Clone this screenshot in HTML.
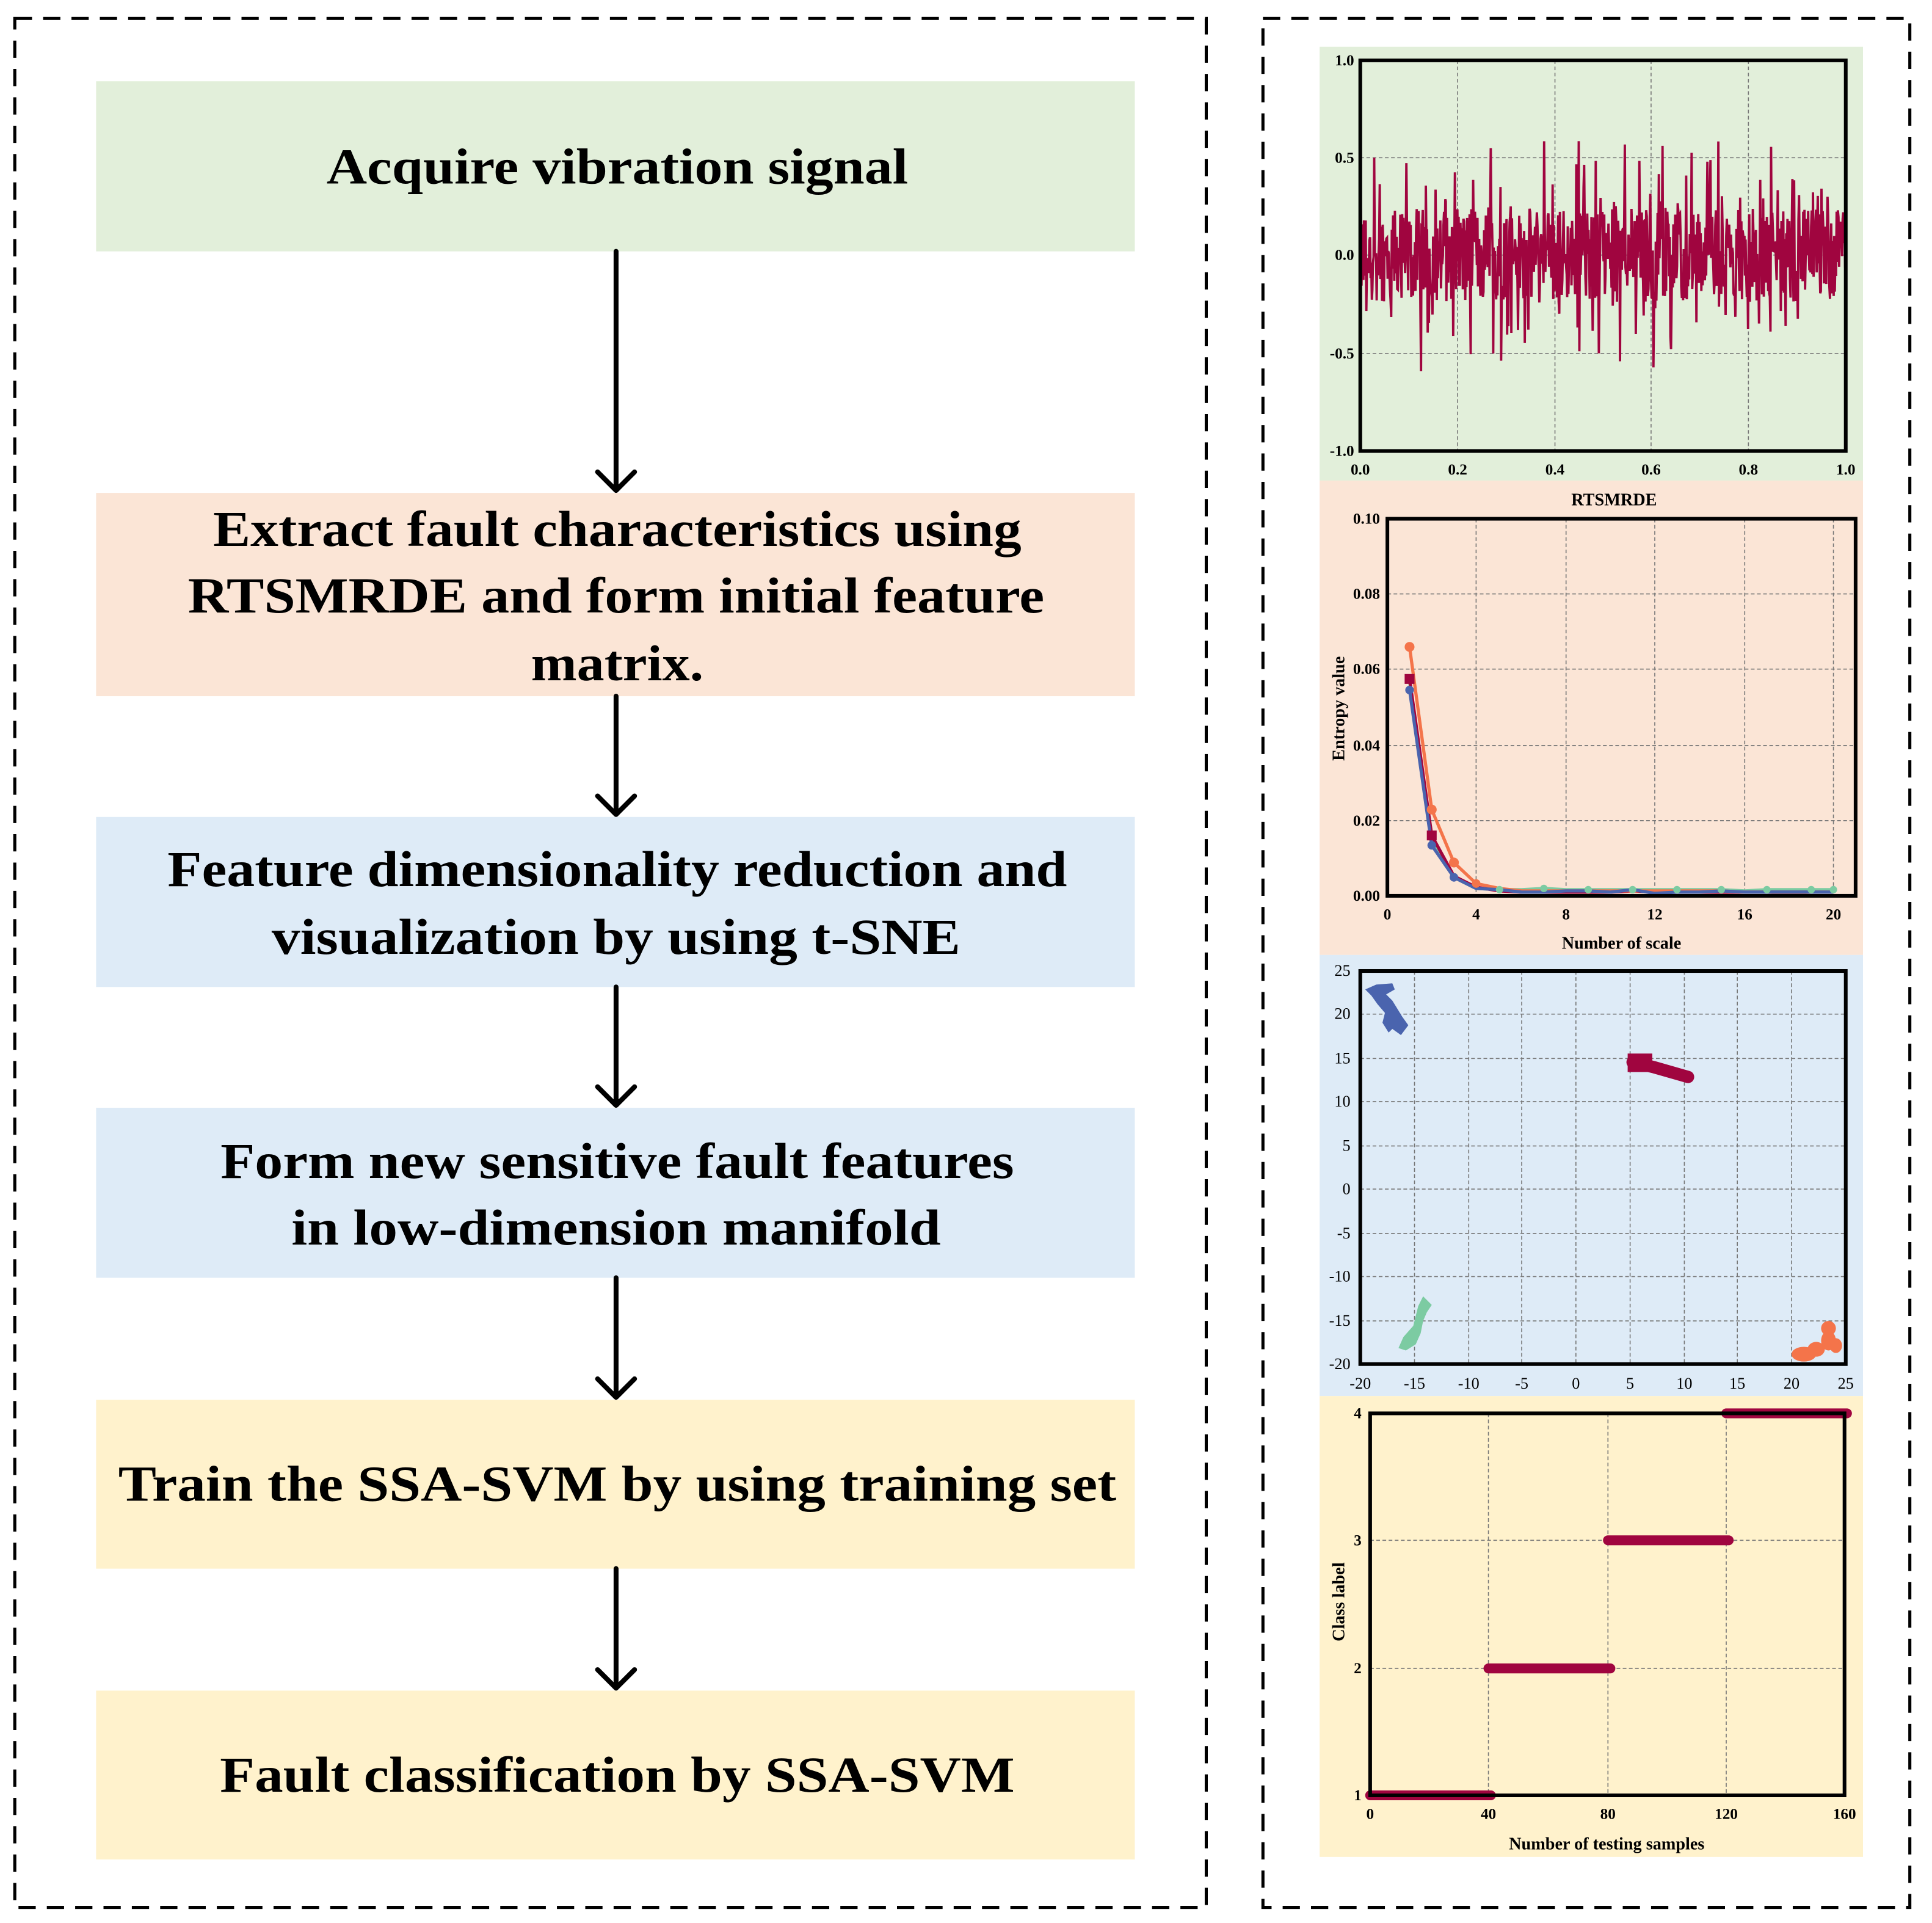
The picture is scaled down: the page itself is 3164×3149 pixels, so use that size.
<!DOCTYPE html>
<html><head><meta charset="utf-8"><style>
html,body{margin:0;padding:0;background:#fff}
svg{display:block}
.bt{font-family:"Liberation Serif",serif;font-weight:bold;font-size:41px;text-anchor:middle;fill:#000}
.tk{font-family:"Liberation Serif",serif;font-weight:bold;font-size:12.5px;fill:#000}
.tn{font-family:"Liberation Serif",serif;font-size:13px;fill:#000}
.al{font-family:"Liberation Serif",serif;font-weight:bold;font-size:14px;fill:#000;text-anchor:middle}
.g{stroke:#777;stroke-width:0.8;stroke-dasharray:3,2;fill:none}
</style></head><body>
<svg width="3164" height="3149" viewBox="0 0 1568 1560.6" preserveAspectRatio="none" xmlns="http://www.w3.org/2000/svg">
<rect x="0" y="0" width="1568" height="1561" fill="#fff"/>
<rect x="12" y="15" width="967" height="1533" fill="none" stroke="#000" stroke-width="2.5" stroke-dasharray="14,9"/>
<rect x="1025" y="15" width="525" height="1533" fill="none" stroke="#000" stroke-width="2.5" stroke-dasharray="14,9"/>

<rect x="78" y="66" width="843" height="138" fill="#e2efda"/>
<rect x="78" y="400" width="843" height="165" fill="#fbe5d6"/>
<rect x="78" y="663" width="843" height="138" fill="#deebf7"/>
<rect x="78" y="899" width="843" height="138" fill="#deebf7"/>
<rect x="78" y="1136" width="843" height="137" fill="#fff2cc"/>
<rect x="78" y="1372" width="843" height="137" fill="#fff2cc"/>

<g class="bt">
<text x="501" y="149" textLength="472" lengthAdjust="spacingAndGlyphs">Acquire vibration signal</text>
<text x="501" y="443" textLength="656" lengthAdjust="spacingAndGlyphs">Extract fault characteristics using</text>
<text x="500" y="497" textLength="695" lengthAdjust="spacingAndGlyphs">RTSMRDE and form initial feature</text>
<text x="501" y="552" textLength="140" lengthAdjust="spacingAndGlyphs">matrix.</text>
<text x="501" y="719" textLength="730" lengthAdjust="spacingAndGlyphs">Feature dimensionality reduction and</text>
<text x="500" y="774" textLength="559" lengthAdjust="spacingAndGlyphs">visualization by using t-SNE</text>
<text x="501" y="956" textLength="644" lengthAdjust="spacingAndGlyphs">Form new sensitive fault features</text>
<text x="500" y="1010" textLength="527" lengthAdjust="spacingAndGlyphs">in low-dimension manifold</text>
<text x="501" y="1218" textLength="810" lengthAdjust="spacingAndGlyphs">Train the SSA-SVM by using training set</text>
<text x="501" y="1454" textLength="645" lengthAdjust="spacingAndGlyphs">Fault classification by SSA-SVM</text>
</g>

<g stroke="#000" stroke-width="4" stroke-linecap="round" fill="none" stroke-linejoin="round">
<path d="M500 204V398M485 383L500 398L515 383"/>
<path d="M500 565V661M485 646L500 661L515 646"/>
<path d="M500 801V897M485 882L500 897L515 882"/>
<path d="M500 1037V1134M485 1119L500 1134L515 1119"/>
<path d="M500 1273V1370M485 1355L500 1370L515 1355"/>
</g>

<rect x="1071" y="38" width="441" height="352" fill="#e2efda"/>
<rect x="1071" y="390" width="441" height="385" fill="#fbe5d6"/>
<rect x="1071" y="775" width="441" height="358" fill="#deebf7"/>
<rect x="1071" y="1133" width="441" height="374" fill="#fff2cc"/>

<!-- Chart 1 -->
<g class="g"><path d="M1183 49V366M1262 49V366M1340 49V366M1419 49V366M1104 128H1498M1104 207H1498M1104 287H1498"/></g>
<polyline id="sig" fill="none" stroke="#a0053f" stroke-width="1.9" points=""/>
<rect x="1104" y="49" width="394" height="317" fill="none" stroke="#000" stroke-width="3"/>
<g class="tk" text-anchor="end">
<text x="1099" y="53">1.0</text><text x="1099" y="132">0.5</text><text x="1099" y="211">0.0</text><text x="1099" y="291">-0.5</text><text x="1099" y="370">-1.0</text></g>
<g class="tk" text-anchor="middle">
<text x="1104" y="385">0.0</text><text x="1183" y="385">0.2</text><text x="1262" y="385">0.4</text><text x="1340" y="385">0.6</text><text x="1419" y="385">0.8</text><text x="1498" y="385">1.0</text></g>
<text class="al" x="1310" y="410">RTSMRDE</text>

<!-- Chart 2 -->
<g class="g"><path d="M1198 421V727M1271 421V727M1343 421V727M1416 421V727M1488 421V727M1126 482H1506M1126 543H1506M1126 605H1506M1126 666H1506"/></g>
<g fill="none" stroke-width="2.6">
<polyline stroke="#7ccba2" points="1144,553 1162,684 1180,712 1198,721 1217,722 1235,722 1253,721 1271,722 1289,722 1307,722 1325,722 1343,722 1361,722 1379,722 1397,722 1416,723 1434,722 1452,722 1470,722 1488,722"/>
<polyline stroke="#a0053f" points="1144,551 1162,678 1180,711 1198,720 1217,723 1235,724 1253,724 1271,724 1289,724 1307,724 1325,723 1343,724 1361,724 1379,724 1397,724 1416,724 1434,724 1452,724 1470,724 1488,724"/>
<polyline stroke="#f4744a" points="1144,525 1162,657 1180,700 1198,717 1217,721 1235,723 1253,723 1271,723 1289,723 1307,723 1325,723 1343,723 1361,723 1379,723 1397,723 1416,724 1434,724 1452,725 1470,724 1488,724"/>
<polyline stroke="#4a64ae" points="1144,560 1162,686 1180,712 1198,721 1217,722 1235,724 1253,724 1271,723 1289,723 1307,724 1325,722 1343,725 1361,724 1379,724 1397,723 1416,724 1434,724 1452,724 1470,724 1488,724"/>
</g>
<g fill="#7ccba2"><circle cx="1217" cy="722" r="3"/><circle cx="1253" cy="721" r="3"/><circle cx="1289" cy="722" r="3"/><circle cx="1325" cy="722" r="3"/><circle cx="1361" cy="722" r="3"/><circle cx="1397" cy="722" r="3"/><circle cx="1434" cy="722" r="3"/><circle cx="1470" cy="722" r="3"/><circle cx="1488" cy="722" r="3"/></g>
<g fill="#f4744a"><circle cx="1144" cy="525" r="4"/><circle cx="1162" cy="657" r="4"/><circle cx="1180" cy="700" r="4"/><circle cx="1198" cy="717" r="3.5"/></g>
<g fill="#a0053f"><rect x="1140" y="547" width="8" height="8"/><rect x="1158" y="674" width="8" height="8"/></g>
<g fill="#4a64ae"><circle cx="1144" cy="560" r="3.5"/><circle cx="1162" cy="686" r="3.5"/><circle cx="1180" cy="712" r="3.5"/></g>
<rect x="1126" y="421" width="380" height="306" fill="none" stroke="#000" stroke-width="3"/>
<g class="tk" text-anchor="end">
<text x="1120" y="425">0.10</text><text x="1120" y="486">0.08</text><text x="1120" y="547">0.06</text><text x="1120" y="609">0.04</text><text x="1120" y="670">0.02</text><text x="1120" y="731">0.00</text></g>
<g class="tk" text-anchor="middle">
<text x="1126" y="746">0</text><text x="1198" y="746">4</text><text x="1271" y="746">8</text><text x="1343" y="746">12</text><text x="1416" y="746">16</text><text x="1488" y="746">20</text></g>
<text class="al" x="1316" y="770">Number of scale</text>
<text class="al" x="0" y="0" transform="translate(1091,575) rotate(-90)">Entropy value</text>

<!-- Chart 3 -->
<g class="g"><path d="M1148 788V1107M1192 788V1107M1235 788V1107M1279 788V1107M1323 788V1107M1367 788V1107M1410 788V1107M1454 788V1107M1104 823H1498M1104 859H1498M1104 894H1498M1104 930H1498M1104 965H1498M1104 1001H1498M1104 1036H1498M1104 1072H1498"/></g>
<polygon fill="#4a64ae" points="1108,803 1117,799 1130,798 1132,803 1125,807 1130,812 1138,825 1143,832 1137,840 1130,835 1127,838 1122,830 1124,822 1118,815 1113,808"/>
<path d="M1325 862L1342 866L1370 874" stroke="#a0053f" stroke-width="10" stroke-linecap="round" fill="none"/>
<rect x="1321" y="855" width="20" height="15" fill="#a0053f"/>
<polygon fill="#7ccba2" points="1135,1094 1139,1085 1147,1076 1149,1068 1151,1060 1155,1052 1162,1059 1158,1065 1155,1072 1153,1082 1149,1091 1141,1096"/>
<g fill="#f4744a"><ellipse cx="1464" cy="1099" rx="10" ry="6"/><ellipse cx="1474" cy="1095" rx="7" ry="6"/><ellipse cx="1484" cy="1088" rx="6" ry="8"/><ellipse cx="1490" cy="1092" rx="5" ry="6"/><circle cx="1484" cy="1078" r="6"/></g>
<rect x="1104" y="788" width="394" height="319" fill="none" stroke="#000" stroke-width="3"/>
<g class="tn" text-anchor="end">
<text x="1096" y="792">25</text><text x="1096" y="827">20</text><text x="1096" y="863">15</text><text x="1096" y="898">10</text><text x="1096" y="934">5</text><text x="1096" y="969">0</text><text x="1096" y="1005">-5</text><text x="1096" y="1040">-10</text><text x="1096" y="1076">-15</text><text x="1096" y="1111">-20</text></g>
<g class="tn" text-anchor="middle">
<text x="1104" y="1127">-20</text><text x="1148" y="1127">-15</text><text x="1192" y="1127">-10</text><text x="1235" y="1127">-5</text><text x="1279" y="1127">0</text><text x="1323" y="1127">5</text><text x="1367" y="1127">10</text><text x="1410" y="1127">15</text><text x="1454" y="1127">20</text><text x="1498" y="1127">25</text></g>

<!-- Chart 4 -->
<g class="g"><path d="M1208 1147V1457M1305 1147V1457M1401 1147V1457M1112 1250H1497M1112 1354H1497"/></g>
<g stroke="#a0053f" stroke-width="8" fill="none" stroke-linecap="round">
<path d="M1112 1457H1210M1208 1354H1307M1305 1250H1403M1401 1147H1499"/>
</g>
<rect x="1112" y="1147" width="385" height="310" fill="none" stroke="#000" stroke-width="3"/>
<g class="tk" text-anchor="end">
<text x="1105" y="1461">1</text><text x="1105" y="1358">2</text><text x="1105" y="1254">3</text><text x="1105" y="1151">4</text></g>
<g class="tk" text-anchor="middle">
<text x="1112" y="1476">0</text><text x="1208" y="1476">40</text><text x="1305" y="1476">80</text><text x="1401" y="1476">120</text><text x="1497" y="1476">160</text></g>
<text class="al" x="1304" y="1501">Number of testing samples</text>
<text class="al" x="0" y="0" transform="translate(1091,1300) rotate(-90)">Class label</text>
</svg>
<script>
(function(){
var s=12345;function r(){s=(s*1103515245+12345)%2147483648;return s/2147483648;}
var pts=[],n=800;
for(var i=0;i<=n;i++){
 var x=1104+i*394/n;
 var u=r()*2-1, v=u*0.24;
 if(r()<0.18) v=(r()*2-1)*0.42;
 if(r()<0.03) v=(r()<0.5?-1:1)*(0.42+r()*0.18);
 pts.push(x.toFixed(1)+","+(207-v*158).toFixed(1));
}
document.getElementById('sig').setAttribute('points',pts.join(' '));
})();
</script>
</body></html>
